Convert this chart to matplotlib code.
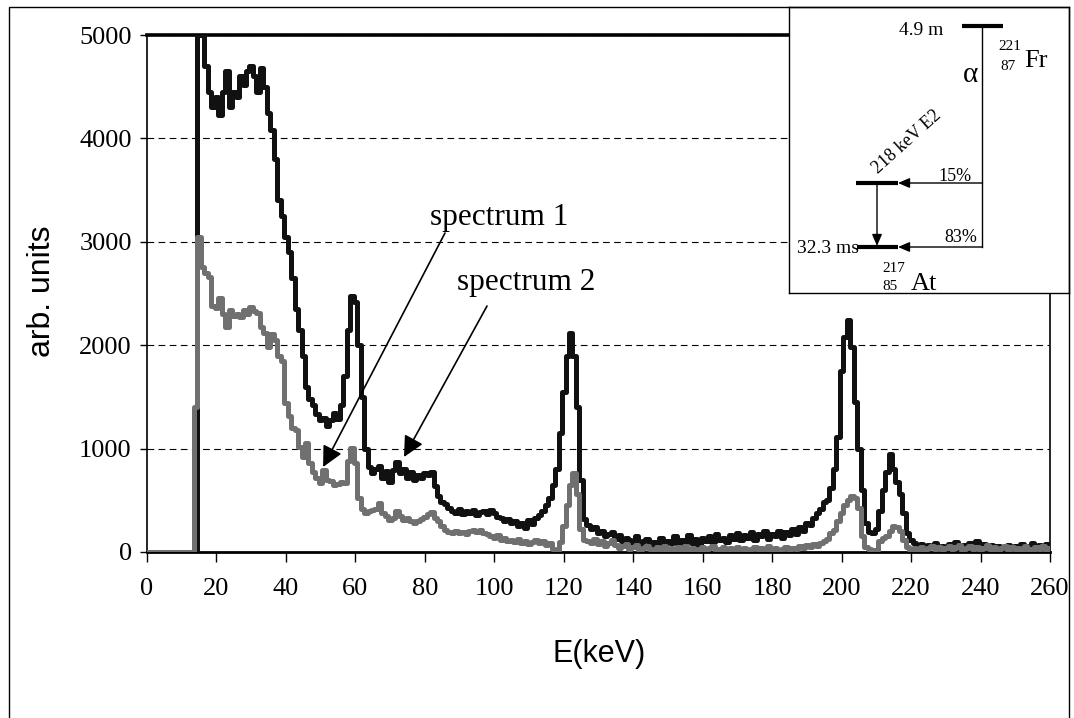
#!/usr/bin/env python3
import numpy
import matplotlib
matplotlib.use('Agg')
import matplotlib.pyplot as plt
from matplotlib import font_manager
from matplotlib.patches import Rectangle

# channel energies (keV) and counts of the two gamma spectra
energy=numpy.arange(0,261)
spec1=[0,0,0,0,0,0,0,0,0,0,
       0,0,0,0,1400,3050,2760,2700,2660,2380,
       2360,2460,2300,2180,2340,2280,2300,2270,2340,2300,
       2370,2330,2310,2180,2120,1980,2110,2050,1900,1850,
       1440,1320,1200,1180,1020,920,1050,860,770,720,
       670,790,700,690,650,660,680,670,880,1010,
       860,520,420,380,400,410,420,470,380,350,
       310,330,400,350,310,330,300,280,300,320,
       340,370,390,330,300,250,210,190,180,200,
       180,190,170,200,210,190,210,180,170,150,
       140,160,120,140,110,120,100,130,90,110,
       80,100,120,90,110,70,90,30,20,100,
       250,450,650,760,560,220,120,110,90,130,
       80,110,60,90,120,70,40,60,80,30,
       50,70,20,40,60,30,10,50,30,60,
       20,40,10,50,30,60,20,40,30,10,
       50,20,40,60,20,30,50,10,40,30,
       50,20,40,10,30,50,20,40,30,60,
       20,40,10,30,50,20,40,30,60,40,
       70,50,80,60,90,110,130,180,210,300,
       380,450,500,540,520,430,150,50,30,20,
       20,110,140,150,200,250,240,200,120,50,
       20,40,30,50,20,40,60,30,50,20,
       40,60,30,50,70,20,40,60,30,50,
       20,40,70,30,50,10,40,60,20,50,
       30,40,20,60,30,10,50,30,60,20,
       40]
spec2=[0,0,0,0,0,0,0,0,0,0,
       0,0,0,0,0,5000,5000,4700,4450,4300,
       4400,4230,4450,4650,4300,4450,4400,4600,4520,4650,
       4700,4600,4450,4680,4500,4250,4080,3800,3400,3250,
       3050,2900,2650,2350,2150,1900,1600,1480,1420,1330,
       1280,1300,1220,1280,1340,1290,1420,1700,2150,2480,
       2420,2000,1500,1000,820,760,800,830,720,780,
       680,790,870,760,800,720,770,700,740,720,
       760,740,770,640,540,480,460,430,400,380,
       420,370,400,380,410,360,390,400,370,410,
       380,340,330,300,320,280,300,250,280,230,
       310,270,330,360,400,450,520,650,800,1150,
       1550,1900,2120,1900,1400,700,320,260,220,240,
       180,200,150,170,190,130,160,110,140,120,
       90,150,70,110,130,40,100,80,140,60,
       110,90,150,80,120,100,160,90,130,70,
       140,110,150,100,170,120,140,100,160,130,
       180,120,160,140,190,120,170,150,200,130,
       170,150,200,140,190,160,220,170,240,200,
       280,260,330,380,420,480,500,620,800,1110,
       1750,2080,2240,1980,1450,1000,600,280,190,180,
       220,400,600,770,950,800,680,560,380,180,
       120,90,60,80,30,70,50,90,40,60,
       20,80,50,100,40,70,30,90,60,110,
       50,80,40,70,20,60,50,30,70,40,
       60,20,80,40,60,90,30,70,40,80,
       50]
yticks=[0,1000,2000,3000,4000,5000]
xticks=list(range(0,261,20))

W,H=1074,718
def fxy(px,py):
    return px/W,1-py/H

def have(name):
    try:
        font_manager.findfont(name,fallback_to_default=False)
        return True
    except Exception:
        return False

serif='Liberation Serif'
narrow='Liberation Sans Narrow' if have('Liberation Sans Narrow') else 'Liberation Sans'

fig=plt.figure(figsize=(W/100,H/100),dpi=100)
ax=fig.add_axes([147/W,1-552/H,(1050-147)/W,(552-35)/H])
ax.set_axisbelow(True)
ax.yaxis.grid(True,ls=(0,(6,4)),color='k',lw=0.8)
ax.plot(energy,spec2,drawstyle='steps-mid',color='#111111',lw=3.6,zorder=3)
ax.plot(energy,spec1,drawstyle='steps-mid',color='#707070',lw=3.6,zorder=4)
ax.set_xlim(0,260)
ax.set_ylim(0,5000)
ax.set_xticks(xticks)
ax.set_yticks(yticks)
ax.set_xticklabels([str(i) for i in xticks],family=serif,fontsize=19)
ax.set_yticklabels([str(i) for i in yticks],family=serif,fontsize=19)
ax.tick_params(axis='x',direction='out',length=7,width=1,pad=12)
ax.tick_params(axis='y',direction='out',length=5,width=1,pad=6)
ax.spines['top'].set_linewidth(2.6)
ax.spines['bottom'].set_linewidth(2.0)
ax.spines['left'].set_linewidth(1.2)
ax.spines['right'].set_linewidth(1.2)

fig.text(*fxy(42,291),'arb. units',family='Liberation Sans',fontsize=23,rotation=90,ha='center',va='center')
fig.text(*fxy(599,662),'E(keV)',family=narrow,fontsize=22,ha='center',va='baseline')

# labels for the two spectra
ax.text(101.4,3162,'spectrum 1',family=serif,fontsize=22.5,ha='center',va='baseline')
ax.text(109.1,2534,'spectrum 2',family=serif,fontsize=22.5,ha='center',va='baseline')
arr=dict(arrowstyle='-|>,head_length=0.9,head_width=0.45',mutation_scale=14,lw=1.2,color='k',shrinkA=0,shrinkB=0)
ax.annotate('',xy=(50.7,822),xytext=(85.8,3085),arrowprops=arr,zorder=6)
ax.annotate('',xy=(74,919),xytext=(97.9,2379),arrowprops=arr,zorder=6)

# decay scheme inset, drawn in pixel units
ins=fig.add_axes([789/W,1-293/H,(1069-789)/W,(293-7)/H])
ins.set_xlim(789,1069)
ins.set_ylim(293,7)
ins.set_xticks([])
ins.set_yticks([])
ins.set_facecolor('white')
for s in ins.spines.values():
    s.set_linewidth(1.0)
ins.plot([962,1003],[26,26],color='k',lw=3,solid_capstyle='butt')
ins.plot([982,982],[26,247],color='k',lw=1)
ins.plot([856,898],[183,183],color='k',lw=3,solid_capstyle='butt')
ins.plot([857,898],[247,247],color='k',lw=3,solid_capstyle='butt')
small=dict(arrowstyle='-|>,head_length=0.7,head_width=0.3',mutation_scale=10,lw=1,color='k',shrinkA=0,shrinkB=0)
ins.annotate('',xy=(898,183),xytext=(982.5,183),arrowprops=small)
ins.annotate('',xy=(898,247),xytext=(982.5,247),arrowprops=small)
ins.annotate('',xy=(877,246),xytext=(877,183),arrowprops=small)
ins.text(943,35,'4.9 m',family=serif,fontsize=14,ha='right',va='baseline')
ins.text(970,75,'\u03b1',family=serif,fontsize=21,ha='center',va='center')
ins.text(1024,67,'Fr',family=serif,fontsize=19,ha='left',va='baseline')
ins.text(998,50,'221',family=serif,fontsize=11,ha='left',va='baseline')
ins.text(1000,70,'87',family=serif,fontsize=11,ha='left',va='baseline')
ins.text(907,142,'218 keV E2',family=serif,fontsize=13,rotation=42,rotation_mode='anchor',ha='center',va='center')
ins.text(972,181,'15%',family=serif,fontsize=13,ha='right',va='baseline')
ins.text(977,242,'83%',family=serif,fontsize=13,ha='right',va='baseline')
ins.text(859,253,'32.3 ms',family=serif,fontsize=14,ha='right',va='baseline')
ins.text(911,290,'At',family=serif,fontsize=19,ha='left',va='baseline')
ins.text(882,272,'217',family=serif,fontsize=11,ha='left',va='baseline')
ins.text(882,290,'85',family=serif,fontsize=11,ha='left',va='baseline')

# outer frame of the whole chart
fig.add_artist(Rectangle((9/W,-0.01),(1069-9)/W,1-7/H+0.01,transform=fig.transFigure,fill=False,lw=1.0,edgecolor='k'))

fig.savefig('out.png',dpi=100)
